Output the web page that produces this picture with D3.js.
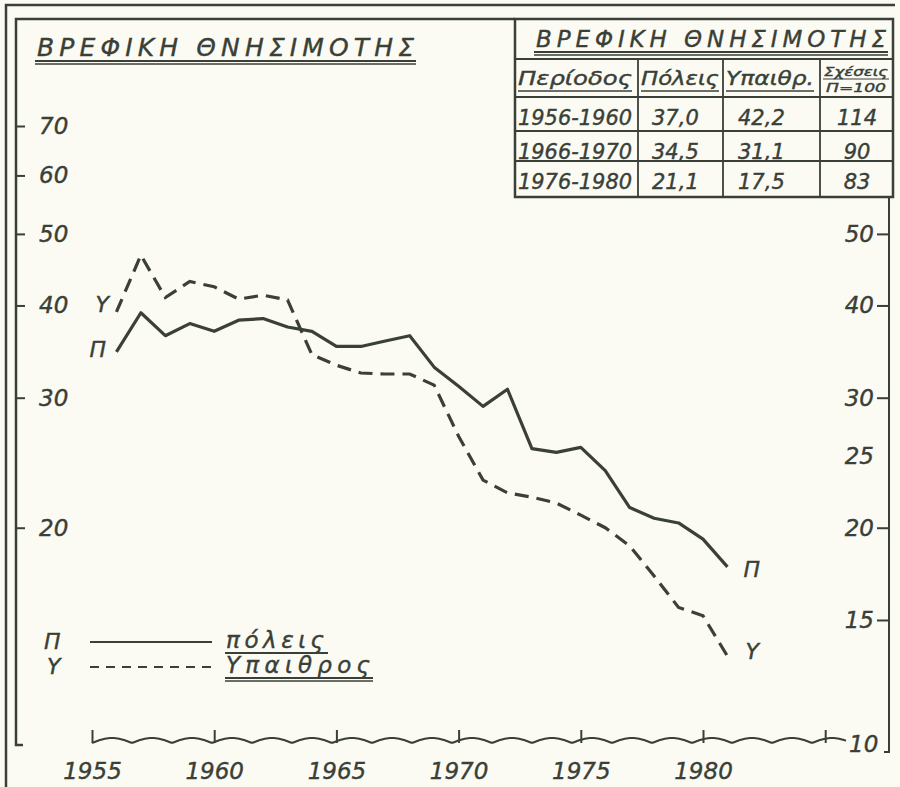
<!DOCTYPE html>
<html>
<head>
<meta charset="utf-8">
<script src="https://cdn.jsdelivr.net/npm/d3@7"></script>
<style>
  body { margin: 0; background: #fbfbf4; }
  svg { display: block; }
  text { font-family: "DejaVu Sans", sans-serif; font-style: italic; fill: #3a3f37; stroke: #3a3f37; stroke-width: 0.4px; }
</style>
</head>
<body>
<div id="chart"></div>
<script>
// series data: infant mortality per 1000
const years = [1956, 1957, 1958, 1959, 1960, 1961, 1962, 1963, 1964, 1965, 1966, 1967, 1968,
  1969, 1970, 1971, 1972, 1973, 1974, 1975, 1976, 1977, 1978, 1979, 1980, 1981];
const poleis = [34.6, 39.1, 36.4, 37.8, 36.9, 38.2, 38.4, 37.4, 36.9, 35.2, 35.2, 35.8, 36.4,
  33.0, 31.1, 29.2, 30.8, 25.6, 25.3, 25.7, 23.9, 21.3, 20.6, 20.3, 19.3, 17.7];
const ypaithros = [39.2, 46.8, 41.0, 43.1, 42.4, 40.8, 41.3, 40.7, 34.3, 33.2, 32.4, 32.3, 32.3,
  31.2, 26.6, 23.2, 22.3, 22.0, 21.6, 20.8, 20.0, 18.9, 17.2, 15.6, 15.2, 13.4];

// ticks
const xTicks = [1955, 1960, 1965, 1970, 1975, 1980, 1985];
const leftTicks = [70, 60, 50, 40, 30, 20];
const rightTicks = [50, 40, 30, 25, 20, 15];

// the small table at the top right
const tableTitle = 'ΒΡΕΦΙΚΗ  ΘΝΗΣΙΜΟΤΗΣ';
const tableHeaders = ['Περίοδος', 'Πόλεις', 'Υπαιθρ.', 'Σχέσεις'];
const periods = ['1956-1960', '1966-1970', '1976-1980'];
const tablePoleis = ['37,0', '34,5', '21,1'];
const tableYpaithros = ['42,2', '31,1', '17,5'];
const tableRatio = ['114', '90', '83'];

const width = 900;
const height = 787;
const ink = '#3a3f37';

const svg = d3.select('#chart').append('svg')
  .attr('width', width)
  .attr('height', height);

svg.append('rect').attr('width', width).attr('height', height).attr('fill', '#fbfbf4');

const x = d3.scaleLinear().domain([1955, 1980]).range([92, 703]);
const y = d3.scaleLog().domain([10, 70]).range([750, 126]);

// frame (double line on the left and top, like the drawing)
const frame = svg.append('g').attr('stroke', ink).attr('fill', 'none');
frame.append('path').attr('d', 'M6,787 L6,5 L895,5').attr('stroke-width', 2.5);
frame.append('path').attr('d', 'M23,745 L16,745 L16,19 L515,19').attr('stroke-width', 2.5);
frame.append('path').attr('d', 'M889,197 L889,752 L884,752').attr('stroke-width', 2);

// title
svg.append('text')
  .attr('x', 37).attr('y', 56)
  .attr('font-size', 25)
  .attr('textLength', 377).attr('lengthAdjust', 'spacing')
  .text('ΒΡΕΦΙΚΗ ΘΝΗΣΙΜΟΤΗΣ');
frame.append('line').attr('x1', 35).attr('x2', 416).attr('y1', 61).attr('y2', 61).attr('stroke-width', 2);
frame.append('line').attr('x1', 35).attr('x2', 416).attr('y1', 64).attr('y2', 64).attr('stroke-width', 1.5);

// left axis
const leftAxis = svg.append('g')
  .attr('transform', 'translate(16,0)')
  .call(d3.axisRight(y).tickValues(leftTicks).tickFormat(d3.format('d')).tickSize(9).tickPadding(14));
leftAxis.select('.domain').remove();
leftAxis.selectAll('.tick line').attr('stroke', ink).attr('stroke-width', 2);
leftAxis.selectAll('.tick text').attr('font-size', 23).attr('font-family', null).attr('fill', ink);

// right axis
const rightAxis = svg.append('g')
  .attr('transform', 'translate(889,0)')
  .call(d3.axisLeft(y).tickValues(rightTicks).tickFormat(d3.format('d')).tickSize(12).tickPadding(3));
rightAxis.select('.domain').remove();
rightAxis.selectAll('.tick line').attr('stroke', ink).attr('stroke-width', 2)
  .attr('opacity', (d) => (d === 25 ? 0 : 1));
rightAxis.selectAll('.tick text').attr('font-size', 23).attr('font-family', null).attr('fill', ink);
svg.append('text').attr('x', 849).attr('y', 752).attr('font-size', 23).text('10');

// bottom axis: ticks pointing up from a wavy base line
const baseY = 743;
const xAxis = svg.append('g')
  .attr('transform', `translate(0,${baseY})`)
  .call(d3.axisBottom(x).tickValues(xTicks)
    .tickFormat((d) => (d <= 1980 ? String(d) : ''))
    .tickSizeInner(-13).tickSizeOuter(0).tickPadding(20));
xAxis.select('.domain').remove();
xAxis.selectAll('.tick line').attr('stroke', ink).attr('stroke-width', 2);
xAxis.selectAll('.tick text').attr('font-size', 23).attr('font-family', null).attr('fill', ink);

const wave = d3.range(92, 848, 2).map((px) => [px, baseY - 5 * Math.abs(Math.sin((px - 92) * Math.PI / 40))]);
svg.append('path')
  .attr('d', d3.line().curve(d3.curveBasis)(wave))
  .attr('fill', 'none').attr('stroke', ink).attr('stroke-width', 2);

// the two series
const line = d3.line().x((d) => x(d[0])).y((d) => y(d[1]));

svg.append('path')
  .datum(years.map((yr, i) => [yr, poleis[i]]))
  .attr('d', line)
  .attr('fill', 'none').attr('stroke', ink).attr('stroke-width', 3.2)
  .attr('stroke-linejoin', 'round');

svg.append('path')
  .datum(years.map((yr, i) => [yr, ypaithros[i]]))
  .attr('d', line)
  .attr('fill', 'none').attr('stroke', ink).attr('stroke-width', 3.2)
  .attr('stroke-dasharray', '14,8');

// series labels at both ends
const seriesLabels = [
  { t: 'Π', x: x(1956) - 27, y: y(poleis[0]) + 5 },
  { t: 'Υ', x: x(1956) - 21, y: y(ypaithros[0]) },
  { t: 'Π', x: x(1981) + 16, y: y(poleis[poleis.length - 1]) + 10 },
  { t: 'Υ', x: x(1981) + 18, y: y(ypaithros[ypaithros.length - 1]) + 3 }
];
svg.append('g').selectAll('text')
  .data(seriesLabels)
  .join('text')
  .attr('x', (d) => d.x).attr('y', (d) => d.y)
  .attr('font-size', 22)
  .text((d) => d.t);

// legend
const legend = svg.append('g');
legend.append('text').attr('x', 44).attr('y', 649).attr('font-size', 22).text('Π');
legend.append('text').attr('x', 47).attr('y', 674).attr('font-size', 22).text('Υ');
legend.append('line').attr('x1', 90).attr('x2', 212).attr('y1', 642).attr('y2', 642)
  .attr('stroke', ink).attr('stroke-width', 2);
legend.append('line').attr('x1', 90).attr('x2', 214).attr('y1', 667).attr('y2', 667)
  .attr('stroke', ink).attr('stroke-width', 2).attr('stroke-dasharray', '9,7');
legend.append('text').attr('x', 226).attr('y', 648).attr('font-size', 23)
  .attr('textLength', 98).attr('lengthAdjust', 'spacing').text('πόλεις');
legend.append('text').attr('x', 226).attr('y', 673).attr('font-size', 23)
  .attr('textLength', 144).attr('lengthAdjust', 'spacing').text('Υπαιθρος');
legend.append('line').attr('x1', 225).attr('x2', 328).attr('y1', 653).attr('y2', 653)
  .attr('stroke', ink).attr('stroke-width', 2);
legend.append('line').attr('x1', 225).attr('x2', 373).attr('y1', 678).attr('y2', 678)
  .attr('stroke', ink).attr('stroke-width', 2);
legend.append('line').attr('x1', 225).attr('x2', 373).attr('y1', 681).attr('y2', 681)
  .attr('stroke', ink).attr('stroke-width', 1.5);

// table
const tbl = svg.append('g');
const colX = [515, 638, 723, 820, 893];
const rowY = [19, 59, 97, 131, 161, 197];
tbl.append('rect').attr('x', colX[0]).attr('y', rowY[0])
  .attr('width', colX[4] - colX[0]).attr('height', rowY[5] - rowY[0])
  .attr('fill', '#fbfbf4').attr('stroke', ink).attr('stroke-width', 2.5);
rowY.slice(1, 5).forEach((ry) => {
  tbl.append('line').attr('x1', colX[0]).attr('x2', colX[4]).attr('y1', ry).attr('y2', ry)
    .attr('stroke', ink).attr('stroke-width', 1.8);
});
colX.slice(1, 4).forEach((cx) => {
  tbl.append('line').attr('x1', cx).attr('x2', cx).attr('y1', rowY[1]).attr('y2', rowY[5])
    .attr('stroke', ink).attr('stroke-width', 1.8);
});
tbl.append('text').attr('x', 536).attr('y', 47).attr('font-size', 23)
  .attr('textLength', 350).attr('lengthAdjust', 'spacing').text(tableTitle);
tbl.append('line').attr('x1', 534).attr('x2', 888).attr('y1', 52).attr('y2', 52)
  .attr('stroke', ink).attr('stroke-width', 2);
tbl.append('line').attr('x1', 534).attr('x2', 888).attr('y1', 55).attr('y2', 55)
  .attr('stroke', ink).attr('stroke-width', 1.5);

const headerW = [114, 78, 88];
tableHeaders.slice(0, 3).forEach((h, i) => {
  tbl.append('text').attr('x', colX[i] + 3).attr('y', 85).attr('font-size', 19)
    .attr('textLength', headerW[i]).attr('lengthAdjust', 'spacingAndGlyphs').text(h);
  tbl.append('line').attr('x1', colX[i] + 3).attr('x2', colX[i] + 3 + headerW[i]).attr('y1', 91).attr('y2', 91)
    .attr('stroke', ink).attr('stroke-width', 1.5);
});
tbl.append('text').attr('x', 824).attr('y', 76).attr('font-size', 12)
  .attr('textLength', 64).attr('lengthAdjust', 'spacingAndGlyphs').text(tableHeaders[3]);
tbl.append('line').attr('x1', 823).attr('x2', 889).attr('y1', 79).attr('y2', 79)
  .attr('stroke', ink).attr('stroke-width', 1.2);
tbl.append('text').attr('x', 826).attr('y', 92).attr('font-size', 12)
  .attr('textLength', 60).attr('lengthAdjust', 'spacingAndGlyphs').text('Π=100');

const rows = periods.map((p, i) => [p, tablePoleis[i], tableYpaithros[i], tableRatio[i]]);
const cellX = [518, 652, 738, 857];
rows.forEach((r, i) => {
  const by = rowY[i + 2] + 28;
  r.forEach((v, j) => {
    tbl.append('text')
      .attr('x', cellX[j]).attr('y', by)
      .attr('font-size', 21)
      .attr('text-anchor', j === 3 ? 'middle' : 'start')
      .attr('textLength', j === 0 ? 114 : null)
      .attr('lengthAdjust', 'spacingAndGlyphs')
      .text(v);
  });
});
</script>
</body>
</html>
